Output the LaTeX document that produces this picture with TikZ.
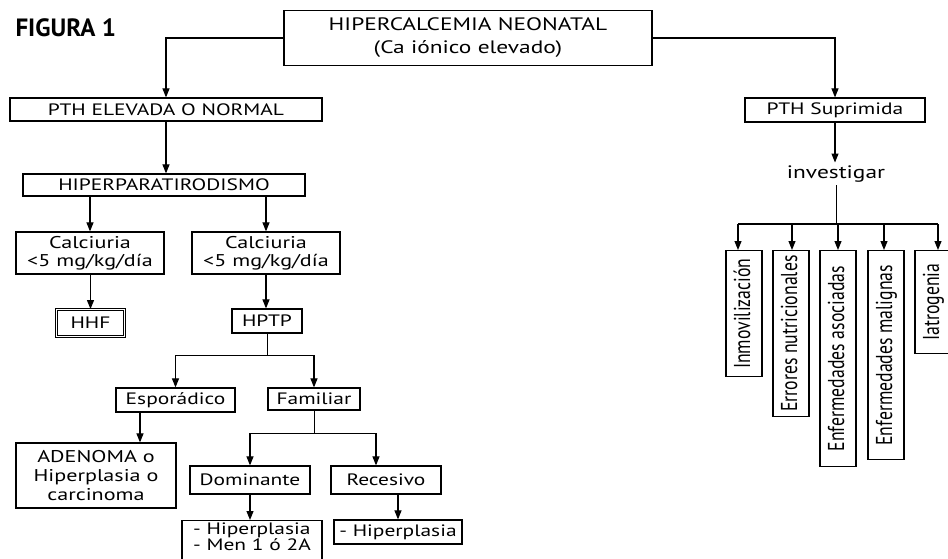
\documentclass[tikz,border=0pt]{standalone}
\usepackage{fontspec}
\setmainfont{PT Sans}[FakeStretch=1.3]
\newfontfamily\narrowfont{PT Sans}[FakeStretch=0.77]
\newfontfamily\titlefont{PT Sans}
\usetikzlibrary{arrows.meta, positioning}

\begin{document}
\begin{tikzpicture}[x=1pt, y=-1pt, font=\fontsize{16.5}{19}\selectfont,
  box/.style={draw, line width=1.2pt, inner sep=0pt, align=center},
  vbox/.style={draw, line width=1.4pt, rotate=90, anchor=east, inner sep=0pt,
    minimum height=36pt, text height=16pt, text depth=4pt,
    font=\narrowfont\fontsize{23}{25}\selectfont},
  arr/.style={-{Triangle[length=9pt,width=7pt]}, line width=1.1pt}]
\useasboundingbox (0,0) rectangle (948,558);

\node[anchor=west, font=\titlefont\bfseries\fontsize{25}{28}\selectfont] (fig) at (12,28) {FIGURA 1};
\node[box, minimum width=368pt, minimum height=55pt, font=\fontsize{18}{23}\selectfont] (hip) at (468,38)
  {HIPERCALCEMIA NEONATAL\\(Ca iónico elevado)};

\node[box, minimum width=312pt, minimum height=23pt] (pthe) at (166,109.5) {PTH ELEVADA O NORMAL};
\node[box, minimum width=282pt, minimum height=22pt] (hpt) at (164,185) {HIPERPARATIRODISMO};
\node[box, minimum width=148pt, minimum height=42pt, font=\fontsize{17}{18}\selectfont] (cal1) at (90,253) {Calciuria\\<5 mg/kg/día};
\node[box, minimum width=148pt, minimum height=42pt, font=\fontsize{17}{18}\selectfont] (cal2) at (266,253) {Calciuria\\<5 mg/kg/día};
\node[box, line width=0.9pt, double, double distance=1.8pt, minimum width=68pt, minimum height=27pt] (hhf) at (90.5,323) {HHF};
\node[box, minimum width=70pt, minimum height=24pt] (hptp) at (267,321) {HPTP};
\node[box, minimum width=119pt, minimum height=24pt] (esp) at (175.5,400) {Esporádico};
\node[box, minimum width=92pt, minimum height=22pt] (fam) at (314,399) {Familiar};
\node[box, minimum width=160pt, minimum height=65pt, font=\fontsize{17}{19}\selectfont] (aden) at (96,475.5) {ADENOMA o\\Hiperplasia o\\carcinoma};
\node[box, minimum width=120pt, minimum height=28pt] (dom) at (250,480) {Dominante};
\node[box, minimum width=110pt, minimum height=28pt] (rec) at (386,480) {Recesivo};
\node[box, anchor=north, minimum width=140pt, inner ysep=2pt, align=left, font=\fontsize{16.5}{16.5}\selectfont] (dom1) at (252,520) {- Hiperplasia\\- Men 1 ó 2A\\[2pt]};
\node[box, minimum width=128pt, minimum height=24pt] (rec1) at (398,532) {- Hiperplasia};

\node[box, minimum width=180pt, minimum height=24pt] (pths) at (835,110) {PTH Suprimida};
\node[inner sep=3pt, font=\fontsize{18}{20}\selectfont] (inv) at (836,174) {investigar};
\coordinate (bus) at (838,224);
\node[vbox, minimum width=126pt] (inm) at (744,250) {Inmovilización};
\node[vbox, minimum width=166pt] (err) at (791,250) {Errores nutricionales};
\node[vbox, minimum width=216pt] (ea) at (838,250) {Enfermedades asociadas};
\node[vbox, minimum width=209pt] (em) at (886,250) {Enfermedades malignas};
\node[vbox, minimum width=103pt] (iat) at (933,250) {Iatrogenia};

\draw[arr] (hip.west) -| (pthe.north);
\draw[arr] (hip.east) -| (pths.north);
\draw[arr] (pthe.south) -- (pthe.south |- hpt.north);
\draw[arr] (cal1.north |- hpt.south) -- (cal1.north);
\draw[arr] (cal2.north |- hpt.south) -- (cal2.north);
\draw[arr] (hhf.north |- cal1.south) -- (hhf.north);
\draw[arr] (cal2.south) -- (cal2.south |- hptp.north);
\draw (hptp.south) -- ++(0,22) coordinate (hb);
\draw[arr] (hb) -| (esp.north);
\draw[arr] (hb) -| (fam.north);
\draw[arr] ([xshift=-35.5pt]esp.south) -- ([xshift=-35.5pt]esp.south |- aden.north);
\draw (fam.south) -- ++(0,23) coordinate (fb);
\draw[arr] (fb) -| (dom.north);
\draw[arr] (fb) -| ([xshift=-10pt]rec.north);
\draw[arr] (dom.south) -- (dom.south |- dom1.north);
\draw[arr] (rec1.north |- rec.south) -- (rec1.north);

\draw[arr] (pths.south) -- (pths.south |- inv.north);
\draw (inv.south) -- (inv.south |- bus);
\draw[line width=1.1pt] ([xshift=-6pt]inm.east |- bus) -- ([xshift=5pt]iat.east |- bus);
\foreach \b/\s in {inm/-6, err/1, ea/0, em/-2, iat/5}
  \draw[arr] ([xshift=\s pt]\b.east |- bus) -- ([xshift=\s pt]\b.east);
\end{tikzpicture}
\end{document}
